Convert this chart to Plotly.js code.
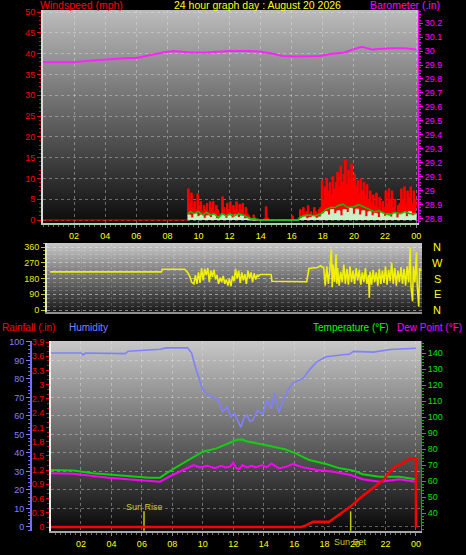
<!DOCTYPE html>
<html><head><meta charset="utf-8">
<script src="https://cdn.plot.ly/plotly-3.0.1.min.js"></script>
<style>html,body{margin:0;padding:0;background:#000;overflow:hidden}#chart{width:466px;height:555px}</style>
</head><body><div id="chart"></div>
<script>
// ---------- tick labels ----------
const hourTicks = [2,4,6,8,10,12,14,16,18,20,22,24];
const hourLabels = ['02','04','06','08','10','12','14','16','18','20','22','00'];
const windTicks = [0,5,10,15,20,25,30,35,40,45,50];
const baroTicks = [28.8,28.9,29.0,29.1,29.2,29.3,29.4,29.5,29.6,29.7,29.8,29.9,30.0,30.1,30.2];
const baroLabels = ['28.8','28.9','29','29.1','29.2','29.3','29.4','29.5','29.6','29.7','29.8','29.9','30','30.1','30.2'];
const dirTicks = [0,90,180,270,360];
const compassLabels = ['N','W','S','E','N'];
const compassValues = [360,270,180,90,0];
const rainTicks = [0,0.3,0.6,0.9,1.2,1.5,1.8,2.1,2.4,2.7,3.0,3.3,3.6,3.9];
const rainLabels = ['0','0.3','0.6','0.9','1.2','1.5','1.8','2.1','2.4','2.7','3','3.3','3.6','3.9'];
const humTicks = [0,10,20,30,40,50,60,70,80,90,100];
const tempTicks = [40,50,60,70,80,90,100,110,120,130,140];

// ---------- barometer (inHg) ----------
const baroT = [0,1.1,1.9,3,4.1,5.4,6,6.4,7.1,7.7,8.4,9.5,10.5,12,13.3,14,14.8,15.4,16.2,17,17.8,18.6,19.4,19.9,20.5,21.2,22.3,23.3,24];
const baroV = [29.92,29.92,29.92,29.93,29.94,29.95,29.95,29.96,29.98,29.99,30.0,29.99,29.99,30.0,30.0,29.995,29.98,29.965,29.96,29.96,29.965,29.98,29.99,30.01,30.03,30.01,30.02,30.02,30.01];

// ---------- wind gust (mph) ----------
const gustT = [0,9.2,
 9.3,9.4,9.5,9.6,9.7,9.8,9.9,10.0,10.1,10.2,
 10.3,10.4,10.5,10.6,10.7,10.8,10.9,11.0,11.1,11.2,
 11.3,11.4,11.5,11.6,11.7,11.8,11.9,12.0,12.1,12.2,
 12.3,12.4,12.5,12.6,12.7,12.8,12.9,13.0,13.1,13.2,
 13.3,13.4,13.5,13.6,13.7,13.8,13.9,
 14.2,14.3,14.4,14.5,16.0,16.1,
 16.4,16.5,16.6,16.7,16.8,16.9,17.0,17.1,17.2,17.3,
 17.4,17.5,17.6,17.7,17.8,17.9,18.0,18.1,18.2,18.3,
 18.4,18.5,18.6,18.7,18.8,18.9,19.0,19.1,19.2,19.3,
 19.4,19.5,19.6,19.7,19.8,19.9,20.0,20.1,20.2,20.3,
 20.4,20.5,20.6,20.7,20.8,20.9,21.0,21.1,21.2,21.3,
 21.4,21.5,21.6,21.7,21.8,21.9,22.0,22.1,22.2,22.3,
 22.4,22.5,22.6,22.7,22.8,22.9,23.0,23.1,23.2,23.3,
 23.4,23.5,23.6,23.7,23.8,23.9,24.0];
const gustV = [0,0,
 7.5,4,6.5,3,4.5,2.5,6.3,3.5,4.4,2,
 3.5,2.5,4,2,4.4,3,4.4,2,3.5,2.5,
 1.5,1,5.6,3,1.5,4,2.5,4.4,1.5,3.5,
 2.5,4.4,2,3.8,2.5,4,1.5,3,1.5,1,
 0.5,0,1.2,0.5,0,0.2,0,
 0.3,3.2,0.5,0,1,0,
 0.5,2.5,1,3,1.5,2,3.5,1.5,2,1,
 3,2,1.5,2.5,3,9.5,5,8,10,7,
 9,6,10.5,7.5,9,11.5,8,13,9,11,
 14.4,8.5,12,10,13.5,9,11,8,9.5,6.5,
 10,7,9,6,8.5,5,7,4,6,3.5,
 6.5,3,5.5,2.5,4.5,3,7,4,7.5,5,
 7,3,5,2,3.5,4,7.5,5,8,4,
 7,5.5,8,4,7,5,3];

// ---------- wind speed (light green) ----------
const speedT = [9.3,9.5,9.7,9.9,10.1,10.3,10.5,10.7,10.9,
 11.1,11.3,11.5,11.7,11.9,12.1,12.3,12.5,12.7,12.9,
 13.1,13.3,16.5,16.7,16.9,17.1,17.3,17.5,17.7,17.9,
 18.1,18.3,18.5,18.7,18.9,19.1,19.3,19.5,19.7,19.9,
 20.1,20.3,20.5,20.7,20.9,21.1,21.3,21.5,21.7,21.9,
 22.1,22.3,22.5,22.7,22.9,23.1,23.3,23.5,23.7,23.9,24.0];
const speedV = [1.2,0.5,1.5,0.8,1.2,0.4,1.0,0.6,1.3,
 0.3,0.8,1.2,0.4,1.0,0.5,1.2,0.6,1.0,0.3,
 0.5,0,0.4,0.8,0.3,0.6,0.9,0.4,0.7,1.5,
 2.0,1.2,2.5,1.5,2.2,1.0,2.5,1.8,2.8,1.4,
 2.6,1.2,2.2,0.8,2.0,1.0,1.6,0.6,1.8,0.9,
 1.4,0.7,1.6,0.5,1.3,1.8,0.8,2.0,1.0,1.6,0];

// ---------- average wind (green line) ----------
const avgT = [9.3,9.5,9.7,10.0,10.3,10.5,10.8,11.0,
 11.3,11.5,11.8,12.0,12.3,12.6,13.0,13.3,13.6,14.0,
 16.4,16.6,17.0,17.5,17.9,18.2,18.5,18.8,19.0,19.3,
 19.6,20.0,20.3,20.6,21.0,21.3,21.6,22.0,22.3,22.6,
 23.0,23.3,23.6,24.0];
const avgV = [1.5,2,1.5,2,1.2,1.8,1.2,1.5,
 0.5,1.5,1,1.5,1,1.5,1,0.3,0.3,0,
 0,0.8,1.2,1,1.5,2.5,3,3,3.5,3.8,
 3,3.2,3.7,3.2,2.5,2,2.2,1.5,1.2,1.8,
 1.5,2,1.5,1.5];

// ---------- wind direction (deg) ----------
const dirT = [0,7.2,7.25,8.7,8.9,9.05,9.15,9.3,9.4,9.5,9.6,9.7,9.8,9.9,
 10.0,10.1,10.2,10.3,10.4,10.5,10.6,10.7,10.8,10.9,
 11.0,11.1,11.2,11.3,11.4,11.5,11.6,11.7,11.8,11.9,
 12.0,12.1,12.2,12.3,12.4,12.5,12.6,12.7,12.8,12.9,
 13.0,13.1,13.2,13.3,13.4,13.5,13.6,14.3,14.35,16.6,16.75,17.3,17.5,17.65,
 17.7,17.8,17.9,18.0,18.1,18.2,18.25,18.3,18.4,18.5,18.55,18.6,18.7,18.8,18.9,
 19.0,19.1,19.2,19.3,19.4,19.5,19.6,19.7,19.8,19.9,
 20.0,20.1,20.2,20.3,20.4,20.5,20.6,20.65,20.7,20.8,20.9,
 21.0,21.1,21.2,21.3,21.4,21.5,21.6,21.7,21.8,21.9,
 22.0,22.1,22.2,22.3,22.4,22.5,22.6,22.7,22.8,22.9,
 23.0,23.1,23.2,23.3,23.35,23.45,23.5,23.6,23.7,23.75,23.85,23.9,24.0];
const dirV = [218,218,233,233,215,190,160,150,200,150,215,155,240,170,
 235,200,240,160,225,190,230,175,200,150,
 185,160,195,150,175,140,180,135,195,165,
 235,180,225,155,215,170,205,150,225,180,
 215,160,210,175,200,195,203,203,165,162,238,243,253,240,
 240,140,250,150,230,350,130,260,160,320,150,240,140,220,160,
 260,150,235,145,250,160,225,150,240,170,
 230,145,215,160,240,150,200,70,220,145,230,
 160,215,140,235,150,225,155,250,145,230,
 165,270,150,240,140,225,160,245,150,235,
 140,250,160,355,130,50,250,160,330,140,20,240,225];

// ---------- humidity (%) ----------
const humT = [0,0.2,2.0,2.15,2.3,4.9,5.1,7.2,7.6,9.0,
 9.27,9.5,9.8,10.0,10.5,10.9,11.1,11.3,11.6,11.85,
 12.07,12.3,12.5,12.7,12.9,13.1,13.3,13.6,13.95,14.2,
 14.5,14.7,15.0,15.3,15.6,15.9,16.6,17.0,17.5,18.1,
 19.65,19.9,21.2,22.3,24.0];
const humV = [94,94,94,93,94,93.7,95,96,96.8,96.8,
 94,86.7,79.5,74,70.5,69.4,66.8,62.3,65,59.6,
 61.5,56.9,53.9,58.9,60.5,57,57.8,63,61,68.6,
 64,72.3,62,68.5,74,77.6,80.4,84.9,89.4,92,
 93.5,94.9,94.5,95.9,96.6];

// ---------- temperature (F) ----------
const tempT = [0,1.5,2.8,4.8,6.5,7.2,7.6,8.5,9.4,10.0,10.9,11.5,12.2,12.6,12.8,14.1,15.4,16.1,17.0,18.1,19.0,19.9,20.5,21.6,22.9,24.0];
const tempV = [66.9,66.6,64.8,63.1,62.1,62.1,64.8,70,75.2,78.3,80.4,82.9,85.6,86,85,82.5,79.8,77.3,73.1,70.6,67.9,66.5,64.2,62.7,62.7,61.1];

// ---------- dew point (F) ----------
const dewT = [0,1.5,3.8,5.9,6.7,7.2,7.8,8.5,9.4,9.8,
 10.3,10.8,11.2,11.5,11.8,12.0,12.2,12.4,12.6,12.9,
 13.2,13.5,13.9,14.2,14.5,15.0,15.5,15.9,16.6,17.5,
 18.6,19.7,20.5,21.6,22.9,24.0];
const dewV = [64.8,64.5,62.1,60.6,59.6,59.6,62.7,65.8,70,68.5,
 69.5,68,69.5,68.5,69,71.5,68,67.5,70,68.5,
 69.5,68.5,70,68.5,71,67.9,69,70.6,68.5,66.9,
 65.8,63.75,61.1,59.6,61.1,59.6];

// ---------- rainfall (in) ----------
const rainT = [0,16.5,16.8,17.25,18.3,18.9,19.7,20.3,21.0,21.4,21.85,22.3,22.6,23.1,23.4,23.85,24.0,24.0];
const rainV = [0,0,0.04,0.11,0.11,0.25,0.43,0.6,0.78,0.87,0.99,1.17,1.27,1.34,1.41,1.45,1.45,0];

// ---------- sun events ----------
const sunNames = ['Sun Rise','Sun Set'];
const sunHours = [6.14,19.71];

// ================= layout helpers =================
const W = 466, H = 555;
const px = x => x / W;
const py = y => 1 - y / H;
const FONT = 'Liberation Sans, Arial, sans-serif';
const GRID = 'rgba(235,235,235,0.38)';

function grad(top, bottom) {
  const svg = '<svg xmlns="http://www.w3.org/2000/svg" width="10" height="100" preserveAspectRatio="none">' +
    '<defs><linearGradient id="g" x1="0" y1="0" x2="0" y2="1">' +
    '<stop offset="0" stop-color="' + top + '"/><stop offset="1" stop-color="' + bottom + '"/>' +
    '</linearGradient></defs><rect width="10" height="100" fill="url(#g)"/></svg>';
  return 'data:image/svg+xml;charset=utf-8,' + encodeURIComponent(svg);
}
function bgImage(x0, y0, x1, y1, top, bottom) {
  return {source: grad(top, bottom), xref: 'paper', yref: 'paper', x: px(x0), y: py(y0),
    sizex: px(x1) - px(x0), sizey: py(y0) - py(y1), xanchor: 'left', yanchor: 'top',
    sizing: 'stretch', layer: 'below'};
}

// sun marker segments
const sunX = [], sunY = [];
sunHours.forEach(h => { sunX.push(h, h, null); sunY.push(-0.08, 0.33, null); });

const traces = [
  {x: gustT, y: gustV, xaxis: 'x', yaxis: 'y', type: 'scatter', mode: 'lines',
   line: {color: '#ff0000', width: 1, shape: 'hv'}, fill: 'tozeroy', fillcolor: '#ff0000', hoverinfo: 'skip'},
  {x: speedT, y: speedV, xaxis: 'x', yaxis: 'y', type: 'scatter', mode: 'lines',
   line: {color: '#c8f2c8', width: 1, shape: 'hv'}, fill: 'tozeroy', fillcolor: '#c8f2c8', hoverinfo: 'skip'},
  {x: avgT, y: avgV, xaxis: 'x', yaxis: 'y', type: 'scatter', mode: 'lines',
   line: {color: '#00c800', width: 1.5}, hoverinfo: 'skip'},
  {x: baroT, y: baroV, xaxis: 'x', yaxis: 'y2', type: 'scatter', mode: 'lines',
   line: {color: '#ff22ff', width: 2}, hoverinfo: 'skip'},
  {x: dirT, y: dirV, xaxis: 'x2', yaxis: 'y3', type: 'scatter', mode: 'lines',
   line: {color: '#f0f000', width: 1.6}, hoverinfo: 'skip'},
  {x: sunX, y: sunY, xaxis: 'x3', yaxis: 'y4', type: 'scatter', mode: 'lines',
   line: {color: '#c8c800', width: 1.5}, hoverinfo: 'skip'},
  {x: humT, y: humV, xaxis: 'x3', yaxis: 'y5', type: 'scatter', mode: 'lines',
   line: {color: '#8080ff', width: 1.6}, hoverinfo: 'skip'},
  {x: tempT, y: tempV, xaxis: 'x3', yaxis: 'y6', type: 'scatter', mode: 'lines',
   line: {color: '#10d010', width: 2}, hoverinfo: 'skip'},
  {x: dewT, y: dewV, xaxis: 'x3', yaxis: 'y6', type: 'scatter', mode: 'lines',
   line: {color: '#ff00ff', width: 2}, hoverinfo: 'skip'},
  {x: rainT, y: rainV, xaxis: 'x3', yaxis: 'y7', type: 'scatter', mode: 'lines',
   line: {color: '#ff0000', width: 2.5}, hoverinfo: 'skip'}
];

const xCommon = {
  tickvals: hourTicks, ticktext: hourLabels, tickfont: {color: '#ffff00', size: 9, family: FONT},
  ticks: 'outside', ticklen: 3, tickcolor: '#8a8a8a', showgrid: true, gridcolor: GRID, griddash: 'dot',
  zeroline: false, showline: true, linecolor: '#a8a8a8', linewidth: 2,
  minor: {tickmode: 'linear', tick0: 0, dtick: 1/3, ticks: 'outside', ticklen: 2, tickcolor: '#707070', showgrid: false},
  fixedrange: true
};

const layout = {
  width: W, height: H, paper_bgcolor: '#000000', plot_bgcolor: 'rgba(0,0,0,0)',
  margin: {l: 0, r: 0, t: 0, b: 0}, showlegend: false,
  font: {family: FONT},
  xaxis: Object.assign({}, xCommon, {domain: [px(43), px(418)], range: [0, 24.12], anchor: 'y', linecolor: '#a8d8a8'}),
  yaxis: {domain: [py(223), py(10)], range: [-0.72, 50.5], anchor: 'x',
    tickvals: windTicks, tickfont: {color: '#ff0000', size: 9, family: FONT},
    ticks: 'outside', ticklen: 4, tickcolor: '#ff0000',
    minor: {tickmode: 'linear', tick0: 0, dtick: 1, ticks: 'outside', ticklen: 2, tickcolor: '#c00000', showgrid: false},
    showgrid: true, gridcolor: GRID, griddash: 'dot', zeroline: false,
    showline: true, linecolor: '#d8d8d8', linewidth: 2, fixedrange: true},
  yaxis2: {overlaying: 'y', side: 'right', anchor: 'x', range: [28.771, 30.293],
    tickvals: baroTicks, ticktext: baroLabels, tickfont: {color: '#ff00ff', size: 9, family: FONT},
    ticks: 'outside', ticklen: 4, tickcolor: '#ff00ff',
    minor: {tickmode: 'linear', tick0: 28.8, dtick: 0.02, ticks: 'outside', ticklen: 2, tickcolor: '#e000e0', showgrid: false},
    showgrid: false, zeroline: false, showline: true, linecolor: '#ff00ff', linewidth: 1, fixedrange: true},
  xaxis2: {domain: [px(47), px(422)], range: [-0.2, 24.06], anchor: 'y3', showticklabels: false,
    ticks: '', showgrid: true, gridcolor: 'rgba(235,235,235,0.2)', griddash: 'dot', tickvals: hourTicks,
    zeroline: false, showline: true, linecolor: '#909090', linewidth: 2, fixedrange: true},
  yaxis3: {domain: [py(312), py(243)], range: [-11, 383], anchor: 'x2',
    tickvals: dirTicks, tickfont: {color: '#e8e800', size: 9, family: FONT},
    ticks: 'outside', ticklen: 4, tickcolor: '#c8c800',
    minor: {tickmode: 'linear', tick0: 0, dtick: 22.5, ticks: 'outside', ticklen: 2, tickcolor: '#a0a000',
      showgrid: true, gridcolor: 'rgba(235,235,235,0.25)', griddash: 'dot'},
    showgrid: true, gridcolor: GRID, griddash: 'dot', zeroline: false,
    showline: true, linecolor: '#e0e0e0', linewidth: 2, fixedrange: true},
  xaxis3: Object.assign({}, xCommon, {domain: [px(51), px(421)], range: [0.033, 24.33], anchor: 'y4'}),
  yaxis4: {domain: [py(531), py(341)], range: [-0.084, 3.921], anchor: 'x3',
    tickvals: rainTicks, ticktext: rainLabels, tickfont: {color: '#ff0000', size: 9, family: FONT},
    ticks: 'outside', ticklen: 3, tickcolor: '#ff0000',
    minor: {tickmode: 'linear', tick0: 0, dtick: 0.1, ticks: 'outside', ticklen: 2, tickcolor: '#d00000', showgrid: false},
    showgrid: false, zeroline: false, showline: true, linecolor: '#f0f0f0', linewidth: 2, fixedrange: true},
  yaxis5: {overlaying: 'y4', anchor: 'free', position: px(31), side: 'left', range: [-2.2, 100.5],
    tickvals: humTicks, tickfont: {color: '#8080ff', size: 9, family: FONT},
    ticks: 'outside', ticklen: 4, tickcolor: '#8080ff',
    minor: {tickmode: 'linear', tick0: 0, dtick: 2, ticks: 'outside', ticklen: 2, tickcolor: '#7070e0', showgrid: false},
    showgrid: true, gridcolor: GRID, griddash: 'dot', zeroline: false,
    showline: true, linecolor: '#7070ff', linewidth: 2, fixedrange: true},
  yaxis6: {overlaying: 'y4', side: 'right', anchor: 'x3', range: [28.75, 147.5],
    tickvals: tempTicks, tickfont: {color: '#00e000', size: 9, family: FONT},
    ticks: 'outside', ticklen: 4, tickcolor: '#00c000',
    minor: {tickmode: 'linear', tick0: 40, dtick: 2, ticks: 'outside', ticklen: 2, tickcolor: '#00b000', showgrid: false},
    showgrid: false, zeroline: false, showline: true, linecolor: '#00b000', linewidth: 1, fixedrange: true},
  yaxis7: {overlaying: 'y4', anchor: 'x3', range: [-0.084, 3.921], visible: false, fixedrange: true},
  images: [
    bgImage(43, 10, 418, 223, '#bcbcbc', '#0c0c0c'),
    bgImage(47, 243, 422, 312, '#c8c8c8', '#1a1a1a'),
    bgImage(51, 341, 421, 531, '#c8c8c8', '#080808')
  ],
  annotations: []
};

const titleFont = (c, s) => ({color: c, size: s, family: FONT});
layout.annotations.push(
  {text: 'Windspeed (mph)', xref: 'paper', yref: 'paper', x: px(38), y: py(5), xanchor: 'left', yanchor: 'middle', showarrow: false, font: titleFont('#ff0000', 10.5)},
  {text: '24 hour graph day : August 20 2026', xref: 'paper', yref: 'paper', x: px(257), y: py(5), xanchor: 'center', yanchor: 'middle', showarrow: false, font: titleFont('#ffff00', 10.5)},
  {text: 'Barometer (.in)', xref: 'paper', yref: 'paper', x: px(405), y: py(5), xanchor: 'center', yanchor: 'middle', showarrow: false, font: titleFont('#ff00ff', 10.5)},
  {text: 'Rainfall (.in)', xref: 'paper', yref: 'paper', x: 0, y: py(327), xanchor: 'left', yanchor: 'middle', showarrow: false, font: titleFont('#ff0000', 10)},
  {text: 'Humidity', xref: 'paper', yref: 'paper', x: px(67), y: py(327), xanchor: 'left', yanchor: 'middle', showarrow: false, font: titleFont('#8080ff', 10)},
  {text: 'Temperature (°F)', xref: 'paper', yref: 'paper', x: px(391), y: py(327), xanchor: 'right', yanchor: 'middle', showarrow: false, font: titleFont('#00ff00', 10)},
  {text: 'Dew Point (°F)', xref: 'paper', yref: 'paper', x: px(464), y: py(327), xanchor: 'right', yanchor: 'middle', showarrow: false, font: titleFont('#ff00ff', 10)}
);
compassLabels.forEach((c, i) => layout.annotations.push(
  {text: c, xref: 'paper', yref: 'y3', x: px(437), y: compassValues[i], xanchor: 'center', yanchor: 'middle',
   showarrow: false, font: {color: '#ffff00', size: 11, family: FONT}}));
layout.annotations.push(
  {text: sunNames[0], xref: 'x3', yref: 'paper', x: sunHours[0], y: py(507), xanchor: 'center', yanchor: 'middle', showarrow: false, font: {color: '#c8c828', size: 9, family: FONT}},
  {text: sunNames[1], xref: 'x3', yref: 'paper', x: sunHours[1], y: py(542), xanchor: 'center', yanchor: 'middle', showarrow: false, font: {color: '#c8c828', size: 9, family: FONT}}
);

Plotly.newPlot('chart', traces, layout, {staticPlot: true, displayModeBar: false});
</script>
</body></html>
